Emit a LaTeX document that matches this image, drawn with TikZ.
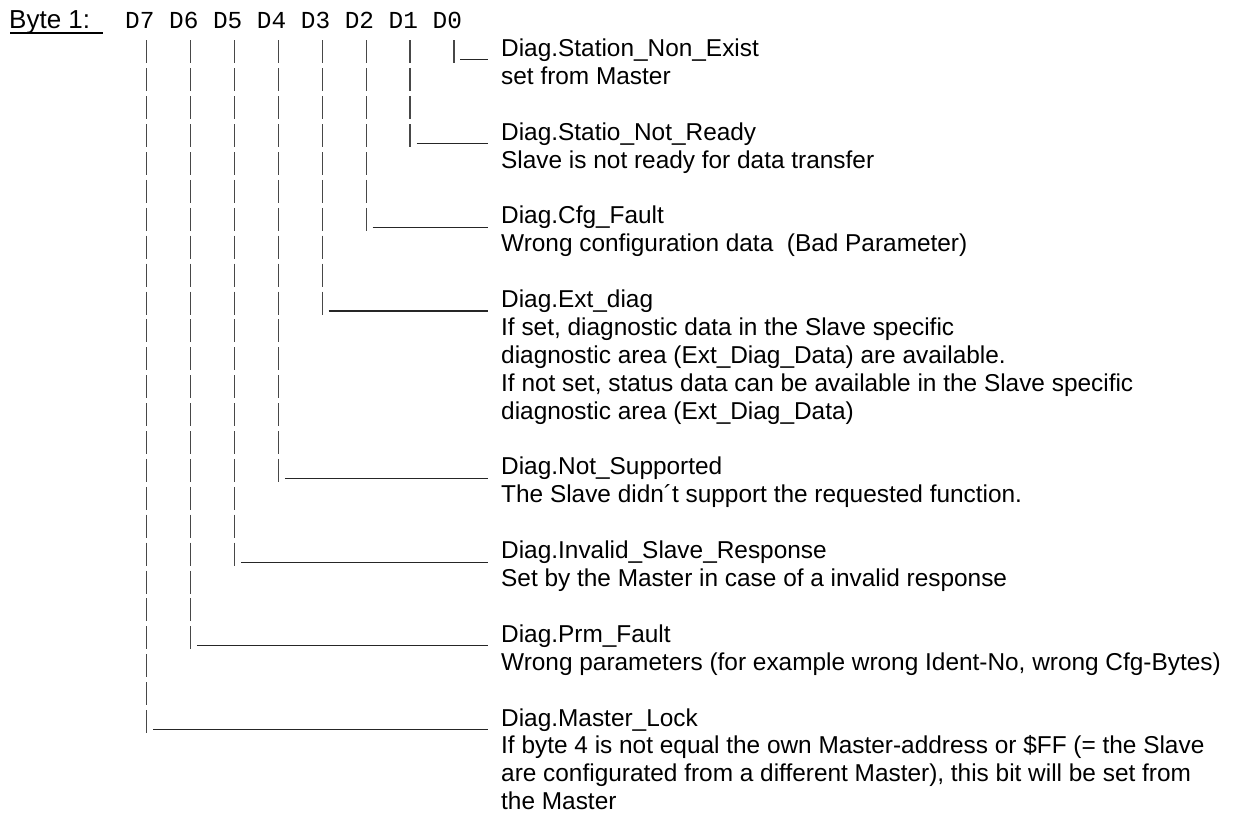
\documentclass[tikz,border=0pt]{standalone}
\usepackage{fontspec}
\setmainfont{Liberation Sans}
\newfontfamily\bitfont{Liberation Mono}
\usetikzlibrary{calc}

% stacked text lines, aligned on the baseline of the first line
\newcommand\desclines[1]{\begin{tabular}[t]{@{}l@{}}#1\end{tabular}}

\begin{document}
\begin{tikzpicture}[
  x=1pt, y=-1pt,
  bitlabel/.style={font=\bitfont\fontsize{24.4}{27.9}\selectfont, inner sep=0pt, anchor=base west},
  desc/.style={font=\fontsize{24.4}{27.9}\selectfont, inner sep=0pt, anchor=base west},
  title/.style={font=\fontsize{26}{28}\selectfont, inner sep=0pt, anchor=base west},
  riser/.style={line width=1.2pt, draw=black!72, dash pattern=on 23pt off 4.9pt},
  leader/.style={line width=1.2pt, draw=black!85},
]
\useasboundingbox (0,0) rectangle (1236,816);

% heading
\node[title] (byte) at (9,28.5) {Byte 1:};
\draw[line width=1.3pt] ($(byte.base west)+(1,4.5)$) -- ++(93,0);

% bit descriptions (baseline of row k at 28.5 + 27.9 k)
\node[desc] (n0) at (501,{28.5+27.9*1}) {\desclines{Diag.Station\_Non\_Exist\\set from Master}};
\node[desc] (n1) at (501,{28.5+27.9*4}) {\desclines{Diag.Statio\_Not\_Ready\\Slave is not ready for data transfer}};
\node[desc] (n2) at (501,{28.5+27.9*7}) {\desclines{Diag.Cfg\_Fault\\Wrong configuration data\ \ (Bad Parameter)}};
\node[desc] (n3) at (501,{28.5+27.9*10}) {\desclines{Diag.Ext\_diag\\If set, diagnostic data in the Slave specific\\diagnostic area (Ext\_Diag\_Data) are available.\\If not set, status data can be available in the Slave specific\\diagnostic area (Ext\_Diag\_Data)}};
\node[desc] (n4) at (501,{28.5+27.9*16}) {\desclines{Diag.Not\_Supported\\The Slave didn´t support the requested function.}};
\node[desc] (n5) at (501,{28.5+27.9*19}) {\desclines{Diag.Invalid\_Slave\_Response\\Set by the Master in case of a invalid response}};
\node[desc] (n6) at (501,{28.5+27.9*22}) {\desclines{Diag.Prm\_Fault\\Wrong parameters (for example wrong Ident-No, wrong Cfg-Bytes)}};
\node[desc] (n7) at (501,{28.5+27.9*25}) {\desclines{Diag.Master\_Lock\\If byte 4 is not equal the own Master-address or \$FF (= the Slave\\are configurated from a different Master), this bit will be set from\\the Master}};

% bit labels D7..D0 with their risers and leaders; \r is the row of each branch
\foreach \b/\r in {0/1,1/4,2/7,3/10,4/16,5/19,6/22,7/25}{
  \pgfmathsetmacro\bx{125+43.92*(7-\b)}
  \pgfmathsetmacro\px{\bx+21.5}
  \pgfmathsetmacro\by{28.5+27.9*\r}
  \node[bitlabel] (b\b) at (\bx,28.5) {D\b};
  \coordinate (t\b) at (\px,{28.5+27.9-16});
  \coordinate (k\b) at (\px,{\by+7});
  \coordinate (h\b) at ({\px+6.5},{\by+3.5});
  \coordinate (e\b) at ($(n\b.base west)+(-13,3.5)$);
  \draw[riser] (t\b) -- (k\b);
  \draw[leader] (h\b) -- (e\b);
}
\end{tikzpicture}
\end{document}
